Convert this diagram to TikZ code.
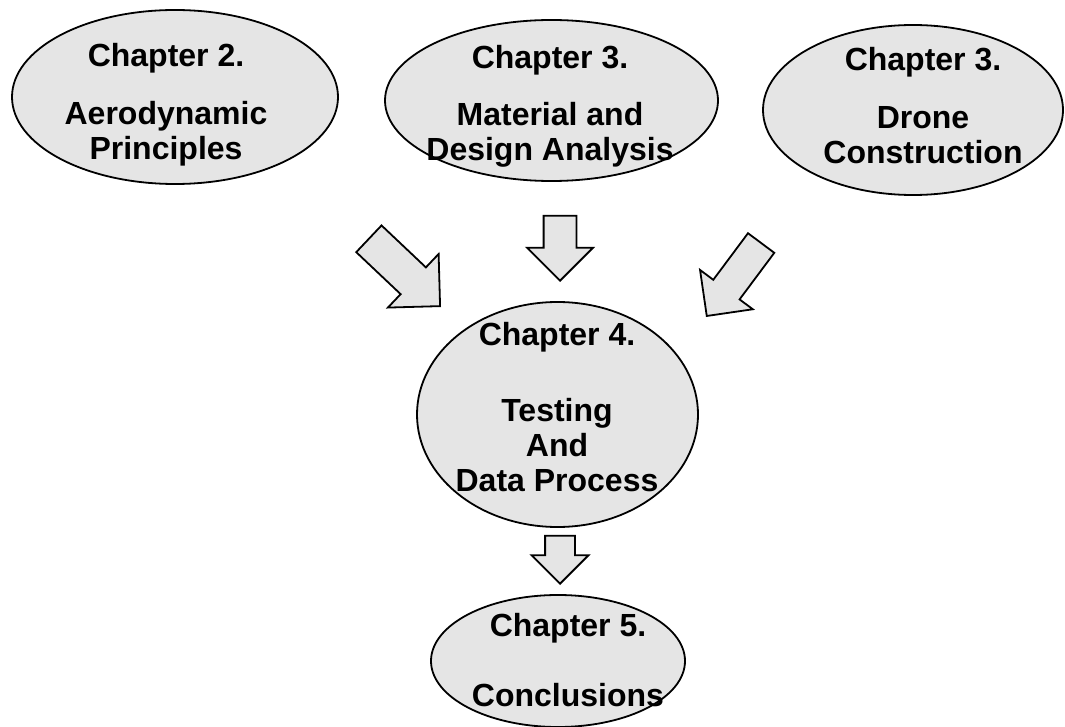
\documentclass[tikz,border=0pt]{standalone}
\usepackage{fontspec}
\setmainfont{Liberation Sans}
\usetikzlibrary{shapes.geometric, shapes.arrows}

\begin{document}
\begin{tikzpicture}[x=1pt, y=-1pt]
	% Setup the styles for the chapters and the arrows
	\tikzset{chapter/.style={ellipse, draw, line width=1.8pt,
			fill=gray!20!white, inner sep=0pt},
		chapter text/.style={anchor=north, align=center, inner sep=0pt,
			font=\fontsize{32}{35}\selectfont\bfseries},
		big arrow/.style={single arrow, draw, line width=1.8pt,
			fill=gray!20!white, single arrow tip angle=90,
			inner xsep=0pt, anchor=tip}}
	
	\useasboundingbox (0,0) rectangle (1065,727);
	
	\node[chapter, minimum width=326, minimum height=174] (c2)  at (175,97)    {};
	\node[chapter, minimum width=333, minimum height=161] (c3a) at (551.5,100.5) {};
	\node[chapter, minimum width=300, minimum height=170] (c3b) at (913,110)   {};
	\node[chapter, minimum width=281, minimum height=225] (c4)  at (557.5,414.5) {};
	\node[chapter, minimum width=254, minimum height=132] (c5)  at (558,661)   {};
	
	\node[chapter text] (t2)  at (166,43)  {Chapter 2.\\[23pt]Aerodynamic\\Principles};
	\node[chapter text] (t3a) at (550,45)  {Chapter 3.\\[22pt]Material and\\Design Analysis};
	\node[chapter text] (t3b) at (923,47)  {Chapter 3.\\[23pt]Drone\\Construction};
	\node[chapter text] (t4)  at (557,322) {Chapter 4.\\[41pt]Testing\\And\\Data Process};
	\node[chapter text] (t5)  at (568,613) {Chapter 5.\\[35pt]Conclusions};
	
	\node[big arrow, minimum height=98, inner ysep=17.5, single arrow head extend=18.5,
		rotate=-43.4] (a1) at (441,307) {};
	\node[big arrow, minimum height=65, inner ysep=15.5, single arrow head extend=16.5,
		rotate=-90] (a2) at (560,282) {};
	\node[big arrow, minimum height=91, inner ysep=15.5, single arrow head extend=16.5,
		rotate=-126.7] (a3) at (706,317) {};
	\node[big arrow, minimum height=48, inner ysep=14, single arrow head extend=13.5,
		rotate=-90] (a4) at (560,585) {};
	
\end{tikzpicture}
\end{document}
